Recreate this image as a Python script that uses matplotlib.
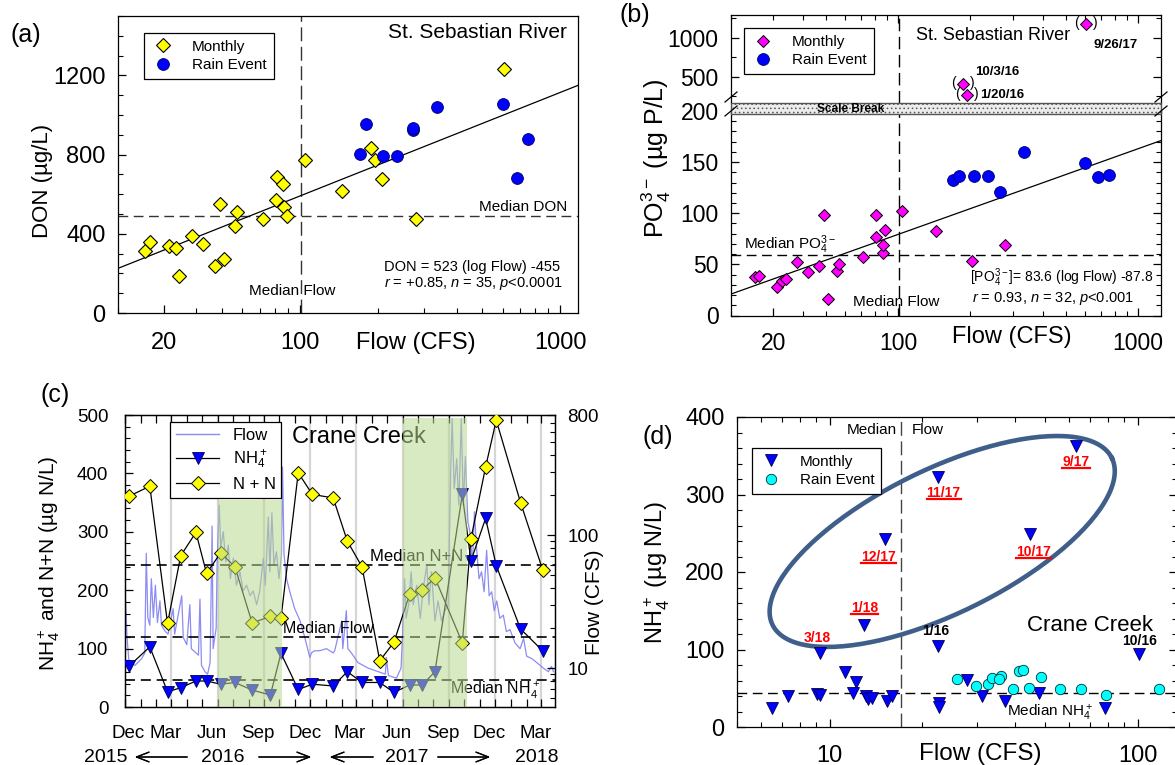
import matplotlib.pyplot as plt
import matplotlib.dates as mdates
import numpy as np
import pandas as pd
from matplotlib.lines import Line2D
from matplotlib.patches import Rectangle
from matplotlib.ticker import (FixedFormatter, FixedLocator, LogLocator,
                               MultipleLocator, NullFormatter)

# ---------- (a) DON vs flow, St. Sebastian River ----------
a_month_flow = [25.5, 26.5, 31.5, 33.5, 34.4, 38.4, 42.5, 47.0, 51.2, 49.3, 57.2, 56.1, 72.3,
                81.6, 85.9, 80.8, 87.1, 88.9, 105, 145, 187, 195, 207, 279, 610]
a_month_don = [312, 357, 337, 329, 185, 388, 349, 236, 273, 553, 509, 438, 475,
               686, 654, 570, 536, 489, 774, 615, 833, 775, 678, 475, 1230]
a_rain_flow = [170, 179, 208, 237, 271, 273, 337, 605, 755, 682]
a_rain_don = [801, 954, 792, 792, 922, 935, 1040, 1057, 880, 683]
a_median_don = 492
a_median_flow = 101
a_fit = (523, -455)

# ---------- (b) PO4 vs flow, St. Sebastian River ----------
b_month_flow = [25.1, 26.2, 31.0, 32.7, 34.0, 37.8, 41.9, 46.6, 48.7, 50.8, 55.6, 56.5, 71.3,
                80.3, 80.3, 85.9, 85.9, 88.1, 104, 143, 203, 278]
b_month_po4 = [37.9, 38.6, 28.2, 33.7, 35.4, 52.6, 42.5, 48.7, 98.0, 16.1, 43.5, 50.4, 57.5,
               98.3, 77.1, 60.8, 68.9, 83.6, 102.2, 82.9, 53.6, 69.3]
b_rain_flow = [169, 179, 206, 236, 267, 334, 604, 683, 756]
b_rain_po4 = [132.5, 136.4, 136.4, 136.4, 121.1, 160.2, 148.8, 135.5, 137.4]
b_high_flow = [608, 186, 194]
b_high_po4 = [1176, 403, 265]
b_high_dates = ["9/26/17", "10/3/16", "1/20/16"]
b_median_po4 = 59.2
b_median_flow = 101
b_fit = (83.6, -87.8)

# ---------- (c) Crane Creek time series ----------
c_dates = ["2015-12-09", "2016-01-19", "2016-02-23", "2016-03-20", "2016-04-19", "2016-05-10",
           "2016-06-07", "2016-07-05", "2016-08-08", "2016-09-13", "2016-10-04", "2016-11-07",
           "2016-12-05", "2017-01-15", "2017-02-12", "2017-03-13", "2017-04-17", "2017-05-15",
           "2017-06-15", "2017-07-10", "2017-08-04", "2017-09-27", "2017-10-14", "2017-11-12",
           "2017-12-03", "2018-01-20", "2018-03-05"]
c_nh4 = [70, 103, 26, 33, 44.5, 44.5, 39, 42, 29, 20.5, 92, 30, 39, 36, 60.5, 42, 42, 25,
         37.7, 37.7, 60.5, 364, 250, 323, 242, 133.6, 96]
c_nn = [361, 378, 143, 259, 299, 229, 264, 240, 144, 155, 152, 401, 364, 358, 284, 240, 79, 111,
        193, 201, 221, 110, 288, 411, 491, 350, 234]

flow_start = "2015-12-01"
flow_day = [0, 4, 8, 20, 33, 39, 42, 45, 49, 52, 56, 60, 64, 69, 72, 79, 85, 95, 98, 112,
            115, 122, 128, 131, 145, 148, 151, 158, 163, 168, 172, 174, 180, 182, 186, 189, 194, 199, 204, 208,
            214, 220, 227, 233, 240, 247, 253, 260, 266, 273, 277, 283, 286, 290, 294, 299, 304, 309, 311, 314,
            319, 325, 335, 345, 355, 365, 368, 374, 384, 398, 411, 414, 428, 430, 437, 440, 447, 460, 480, 500,
            514, 516, 520, 536, 545, 548, 552, 555, 560, 565, 569, 576, 583, 589, 596, 600, 605, 612, 618, 625,
            632, 638, 643, 646, 650, 655, 659, 664, 668, 672, 677, 681, 686, 690, 694, 699, 704, 709, 714, 719,
            724, 729, 734, 740, 747, 753, 760, 770, 780, 787, 793, 803, 813, 826, 836, 842, 846]
flow_cfs = [40, 17, 11, 10.5, 11.8, 13, 73, 24, 21, 47, 24, 42, 22, 32, 21, 19, 18, 28, 18, 35,
            17, 15, 30, 14, 12.5, 33, 10.5, 9.4, 9, 11, 117, 14, 20, 63, 168, 80, 106, 63, 84, 47,
            67, 42, 53, 38, 42, 35, 38, 30, 38, 67, 42, 137, 53, 147, 60, 75, 47, 71, 325, 71,
            47, 38, 28, 23, 17, 12, 13, 13.5, 13.5, 14, 13, 13.5, 22.6, 14, 27, 14, 13, 11, 10, 9.4,
            9, 12, 8.8, 8.4, 10, 17.7, 47, 23.7, 30, 53, 30, 42, 23.7, 40, 60, 30, 53, 22.6, 32, 22.6,
            27, 30, 300, 750, 224, 375, 168, 750, 168, 390, 126, 106, 60, 150, 81, 47, 53, 37.5, 77, 35,
            37.5, 27, 32, 23.7, 25, 18.8, 19.5, 15.5, 14, 16.7, 12.3, 11.8, 11, 10, 9.4, 10.3, 9.4]

wet_start = ["2016-06-01", "2017-06-01"]
wet_end = ["2016-10-06", "2017-10-07"]
wet_top = [355, 495]
c_median_nn = 243
c_median_nh4 = 47
crane_median_flow = 17.0

quarter_dates = ["2016-03-01", "2016-06-01", "2016-09-01", "2016-12-01", "2017-03-01",
                 "2017-06-01", "2017-09-01", "2017-12-01", "2018-03-01"]
month_label_dates = ["2015-12-07", "2016-02-19", "2016-05-20", "2016-08-19", "2016-11-20",
                     "2017-02-17", "2017-05-21", "2017-08-20", "2017-11-19", "2018-02-18"]
month_labels = ["Dec", "Mar", "Jun", "Sep", "Dec", "Mar", "Jun", "Sep", "Dec", "Mar"]

# ---------- (d) Crane Creek NH4 vs flow ----------
d_month_flow = [63, 22.4, 44.8, 15.1, 12.9, 9.3, 22.4, 101, 6.5, 7.3, 9.12, 9.3, 11.2, 12.2,
                11.9, 13.1, 13.3, 13.7, 15.3, 15.9, 22.6, 22.7, 27.8, 31.3, 37.0, 47.7, 78.5]
d_month_nh4 = [363, 323, 249, 242, 132, 95, 104, 94, 24, 40.4, 42, 41, 71.4, 58.5,
               43.4, 40, 36, 38, 34, 40, 31.4, 26, 60.6, 40, 33.5, 44, 24]
d_month_tags = ["9/17", "11/17", "10/17", "12/17", "1/18", "3/18", "1/16", "10/16"]
d_rain_flow = [25.8, 29.8, 32.7, 33.7, 35.9, 35.3, 39.4, 41.1, 42.5, 44.4, 48.4, 56.1, 65.2, 79, 117]
d_rain_nh4 = [61.5, 52.9, 55, 63.7, 65.8, 62.5, 48.6, 72.3, 73.5, 50.9, 63.9, 48.6, 48.6, 41.3, 49]
d_median_nh4 = 43.4

W, H = 1175, 765
YELLOW = "#ffff00"
BLUE = "#0000ff"
MAGENTA = "#ff00ff"
CYAN = "#00ffff"
FLOW_BLUE = "#8c8cf2"
DASH = (7, 4)


def rc_style():
    plt.rcParams.update(
        {
            "font.family": ["Liberation Sans", "DejaVu Sans"],
            "mathtext.fontset": "custom",
            "mathtext.rm": "Liberation Sans",
            "mathtext.it": "Liberation Sans:italic",
            "mathtext.bf": "Liberation Sans:bold",
            "axes.linewidth": 0.9,
            "hatch.color": "#c4c4c4",
            "hatch.linewidth": 0.6,
        }
    )


def frac_box(left, top, right, bottom):
    return [left / W, 1 - bottom / H, (right - left) / W, (bottom - top) / H]


def fig_xy(x, y):
    return x / W, 1 - y / H


def style_ticks(ax, size, xpad, ypad, top=False, right=False):
    ax.tick_params(which="both", direction="in", labelsize=size, top=top, right=right)
    ax.tick_params(which="major", length=6, width=0.9)
    ax.tick_params(which="minor", length=3.5, width=0.8)
    ax.tick_params(axis="x", pad=xpad)
    ax.tick_params(axis="y", pad=ypad)


def log_minor(axis):
    axis.set_minor_locator(LogLocator(subs=np.arange(2, 10), numticks=20))
    axis.set_minor_formatter(NullFormatter())


def boxed_legend(ax, handles, labels, anchor, size, **kw):
    leg = ax.legend(handles, labels, loc="upper left", bbox_to_anchor=anchor, frameon=True,
                    fancybox=False, edgecolor="black", framealpha=1, fontsize=size,
                    borderaxespad=0, numpoints=1, **kw)
    leg.get_frame().set_linewidth(0.9)
    return leg


def draw_don_panel(fig):
    ax = fig.add_axes(frac_box(118, 16, 578, 313))
    ax.set_xscale("log")
    ax.set_xlim(20, 1170)
    ax.set_ylim(0, 1500)

    xs = np.geomspace(20, 1170, 60)
    ax.plot(xs, a_fit[0] * np.log10(xs) + a_fit[1], color="black", lw=0.9, zorder=2)
    ax.axhline(a_median_don, color="#333333", lw=1, dashes=DASH, zorder=1)
    ax.axvline(a_median_flow, color="#333333", lw=1, dashes=(10, 4), zorder=1)

    mon, = ax.plot(a_month_flow, a_month_don, ls="none", marker="D", ms=7.5,
                   mfc=YELLOW, mec="black", mew=0.8, zorder=3)
    rain, = ax.plot(a_rain_flow, a_rain_don, ls="none", marker="o", ms=8.5,
                    mfc=BLUE, mec="#000060", mew=0.6, zorder=3)

    ax.xaxis.set_major_locator(FixedLocator([30, 100, 1000]))
    ax.xaxis.set_major_formatter(FixedFormatter(["20", "100", "1000"]))
    log_minor(ax.xaxis)
    ax.yaxis.set_major_locator(MultipleLocator(400))
    ax.yaxis.set_minor_locator(MultipleLocator(100))
    style_ticks(ax, 17, 14, 9)

    ax.text(0.976, 0.943, "St. Sebastian River", transform=ax.transAxes, ha="right",
            va="center", fontsize=15)
    ax.text(0.976, 0.357, "Median DON", transform=ax.transAxes, ha="right", va="center", fontsize=11)
    ax.text(0.285, 0.074, "Median Flow", transform=ax.transAxes, ha="left", va="center", fontsize=11)
    ax.text(0.578, 0.155, "DON = 523 (log Flow) -455", transform=ax.transAxes, ha="left",
            va="center", fontsize=10.5)
    ax.text(0.578, 0.101, "$r$ = +0.85, $n$ = 35, $p$<0.0001", transform=ax.transAxes,
            ha="left", va="center", fontsize=10.5)
    ax.text(0.647, -0.102, "Flow (CFS)", transform=ax.transAxes, ha="center", va="center", fontsize=17)
    ax.text(-0.165, 0.444, "DON (µg/L)", transform=ax.transAxes, rotation=90, ha="center",
            va="center", fontsize=16)
    fig.text(*fig_xy(26, 35), "(a)", ha="center", va="center", fontsize=18)

    boxed_legend(ax, [mon, rain], ["Monthly", "Rain Event"], (0.0565, 0.943), 11,
                 handlelength=1.6, handletextpad=1.1, borderpad=0.45, labelspacing=0.3)


def draw_po4_panel(fig):
    low = fig.add_axes(frac_box(731, 111, 1161, 315.5))
    up = fig.add_axes(frac_box(731, 15, 1161, 103.3))
    for ax in (low, up):
        ax.set_xscale("log")
        ax.set_xlim(20, 1250)
        log_minor(ax.xaxis)
        ax.axvline(b_median_flow, color="black", lw=1, dashes=(9, 4), zorder=1)

    low.set_ylim(0, 200)
    low.spines["top"].set_visible(False)
    low.xaxis.set_major_locator(FixedLocator([30, 100, 1000]))
    low.xaxis.set_major_formatter(FixedFormatter(["20", "100", "1000"]))
    low.yaxis.set_major_locator(MultipleLocator(50))
    low.yaxis.set_minor_locator(MultipleLocator(10))
    style_ticks(low, 16.5, 12, 9, right=True)

    up.set_ylim(160, 1290)
    up.spines["bottom"].set_visible(False)
    up.xaxis.set_major_locator(FixedLocator([100, 1000]))
    up.yaxis.set_major_locator(FixedLocator([500, 1000]))
    up.yaxis.set_minor_locator(FixedLocator([250, 750, 1250]))
    style_ticks(up, 16.5, 9, 9, top=True, right=True)
    up.tick_params(which="both", bottom=False, labelbottom=False)

    xs = np.geomspace(20, 1250, 60)
    low.plot(xs, b_fit[0] * np.log10(xs) + b_fit[1], color="black", lw=0.9, zorder=2)
    low.axhline(b_median_po4, color="black", lw=1, dashes=DASH, zorder=1)

    mon, = low.plot(b_month_flow, b_month_po4, ls="none", marker="D", ms=6.5,
                    mfc=MAGENTA, mec="black", mew=0.7, zorder=3)
    rain, = low.plot(b_rain_flow, b_rain_po4, ls="none", marker="o", ms=8.5,
                     mfc=BLUE, mec="#000060", mew=0.6, zorder=3)

    # excluded high values, shown in parentheses above the break
    up.plot(b_high_flow, b_high_po4, ls="none", marker="D", ms=5.8, mfc=MAGENTA,
            mec="black", mew=0.7, zorder=3)
    tag_offsets = [(21.6, -15.1, "center"), (24.5, 8.6, "center"), (9.6, 0, "left")]
    for x, y, tag, (dx, dy, ha) in zip(b_high_flow, b_high_po4, b_high_dates, tag_offsets):
        up.annotate("(", (x, y), xytext=(-6.8, 1), textcoords="offset points", ha="center",
                    va="center", fontsize=10)
        up.annotate(")", (x, y), xytext=(6.8, 1), textcoords="offset points", ha="center",
                    va="center", fontsize=10)
        up.annotate(tag, (x, y), xytext=(dx, dy), textcoords="offset points", ha=ha,
                    va="center", fontsize=9.5, fontweight="bold")

    # scale break band between the two y ranges
    fig.add_artist(Rectangle(fig_xy(731, 114.3), 430 / W, 11 / H, transform=fig.transFigure,
                             facecolor="#ececec", edgecolor="#555555", lw=1, hatch="....", zorder=5))
    fig.text(*fig_xy(851, 109), "Scale Break", ha="center", va="center", fontsize=8.5,
             fontweight="bold", zorder=6)
    for x in (731, 1161):
        for yc in (97, 111):
            (x0, y0), (x1, y1) = fig_xy(x - 6, yc + 5), fig_xy(x + 6, yc - 5)
            fig.add_artist(Line2D([x0, x1], [y0, y1], transform=fig.transFigure,
                                  color="black", lw=0.9, zorder=6))

    up.text(0.430, 0.773, "St. Sebastian River", transform=up.transAxes, ha="left",
            va="center", fontsize=13)
    low.text(0.03, 0.345, "Median PO$_4^{3-}$", transform=low.transAxes, ha="left",
             va="center", fontsize=11)
    low.text(0.283, 0.067, "Median Flow", transform=low.transAxes, ha="left", va="center", fontsize=11)
    low.text(0.556, 0.183, "[PO$_4^{3-}$]= 83.6 (log Flow) -87.8", transform=low.transAxes,
             ha="left", va="center", fontsize=10)
    low.text(0.56, 0.084, "$r$ = 0.93, $n$ = 32, $p$<0.001", transform=low.transAxes,
             ha="left", va="center", fontsize=10.5)
    low.text(0.653, -0.105, "Flow (CFS)", transform=low.transAxes, ha="center", va="center",
             fontsize=17)
    fig.text(*fig_xy(656, 158), "PO$_4^{3-}$ (µg P/L)", rotation=90, ha="center", va="center",
             fontsize=18)
    fig.text(*fig_xy(635, 15), "(b)", ha="center", va="center", fontsize=18)

    boxed_legend(up, [mon, rain], ["Monthly", "Rain Event"], (0.030, 0.853), 11,
                 handlelength=1.6, handletextpad=1.1, borderpad=0.45, labelspacing=0.3)


def draw_crane_series(fig):
    ax = fig.add_axes(frac_box(125, 415, 555, 707))
    axq = ax.twinx()
    ax.set_zorder(axq.get_zorder() + 1)
    ax.patch.set_visible(False)

    start = pd.Timestamp(flow_start)
    flow_dates = start + pd.to_timedelta(flow_day, unit="D")
    axq.set_yscale("log")
    axq.set_ylim(5.1, 800)
    for d in pd.to_datetime(quarter_dates):
        axq.axvline(d, color="#d6d6d6", lw=1.6, zorder=0)
    axq.plot(flow_dates, flow_cfs, color=FLOW_BLUE, lw=0.9, zorder=1)
    axq.axhline(crane_median_flow, color="black", lw=1.2, dashes=(6, 3.5), zorder=2)
    axq.yaxis.set_major_locator(FixedLocator([10, 100, 800]))
    axq.yaxis.set_major_formatter(FixedFormatter(["10", "100", "800"]))
    log_minor(axq.yaxis)
    axq.tick_params(which="both", direction="in", labelsize=13.5, pad=9)
    axq.tick_params(which="major", length=6, width=0.9)
    axq.tick_params(which="minor", length=3.5, width=0.8)

    dates = pd.to_datetime(c_dates)
    ax.set_xlim(start, pd.Timestamp("2018-03-29"))
    ax.set_ylim(0, 500)
    ax.axhline(c_median_nn, color="black", lw=1.2, dashes=(6, 3.5), zorder=1)
    ax.axhline(c_median_nh4, color="black", lw=1.2, dashes=(6, 3.5), zorder=1)
    nh4_line, = ax.plot(dates, c_nh4, color="black", lw=0.9, marker="v", ms=8.5,
                        mfc=BLUE, mec="#000050", mew=0.6, zorder=3)
    nn_line, = ax.plot(dates, c_nn, color="black", lw=0.9, marker="D", ms=7,
                       mfc=YELLOW, mec="black", mew=0.7, zorder=3)
    for s, e, top in zip(pd.to_datetime(wet_start), pd.to_datetime(wet_end), wet_top):
        ax.fill_between([s, e], 0, top, color="#b9d98f", alpha=0.55, lw=0, zorder=6)

    ax.xaxis.set_major_locator(mdates.MonthLocator())
    ax.xaxis.set_major_formatter(NullFormatter())
    ax.xaxis.set_minor_locator(FixedLocator(mdates.date2num(pd.to_datetime(month_label_dates))))
    ax.xaxis.set_minor_formatter(FixedFormatter(month_labels))
    ax.yaxis.set_major_locator(MultipleLocator(100))
    ax.yaxis.set_minor_locator(MultipleLocator(20))
    style_ticks(ax, 13.5, 10, 12, top=True)
    ax.tick_params(axis="x", which="minor", length=0, pad=13, labelsize=13.5)

    ax.text(0.545, 0.926, "Crane Creek", transform=ax.transAxes, ha="center", va="center",
            fontsize=17, zorder=4)
    ax.text(0.570, 0.515, "Median N+N", transform=ax.transAxes, ha="left", va="center",
            fontsize=12, zorder=4)
    ax.text(0.368, 0.27, "Median Flow", transform=ax.transAxes, ha="left", va="center",
            fontsize=11.5, zorder=4)
    ax.text(0.756, 0.055, "Median NH$_4^+$", transform=ax.transAxes, ha="left", va="center",
            fontsize=11.5, zorder=4)

    flow_handle = Line2D([], [], color=FLOW_BLUE, lw=1)
    leg = boxed_legend(ax, [flow_handle, nh4_line, nn_line], ["Flow", "NH$_4^+$", "N + N"],
                       (0.105, 0.976), 12, handlelength=2.6, handletextpad=0.8,
                       borderpad=0.35, labelspacing=0.35)
    leg.set_zorder(8)

    fig.text(*fig_xy(49, 563), "NH$_4^+$ and N+N (µg N/L)", rotation=90, ha="center",
             va="center", fontsize=15)
    fig.text(*fig_xy(594, 602), "Flow (CFS)", rotation=90, ha="center", va="center", fontsize=15)
    fig.text(*fig_xy(55, 395), "(c)", ha="center", va="center", fontsize=18)

    # year row under the month labels
    row = 757
    for label, x in [("2015", 106), ("2016", 223), ("2017", 407), ("2018", 537)]:
        fig.text(*fig_xy(x, row), label, ha="center", va="center", fontsize=14)
    for tail, head in [(190, 132), (256, 314), (376, 327), (435, 493)]:
        fig.add_artist(plt.annotate("", xy=fig_xy(head, row), xytext=fig_xy(tail, row),
                                    xycoords="figure fraction", textcoords="figure fraction",
                                    arrowprops=dict(arrowstyle="->,head_length=0.9,head_width=0.35",
                                                    lw=0.9, color="black")))


def draw_crane_scatter(fig):
    ax = fig.add_axes(frac_box(737, 417, 1177, 727))
    ax.set_xscale("log")
    ax.set_xlim(5, 134)
    ax.set_ylim(0, 400)

    ax.axhline(d_median_nh4, color="black", lw=1, dashes=DASH, zorder=1)
    ax.axvline(crane_median_flow, color="#444444", lw=1, dashes=(10, 4), zorder=1)

    # highlight around the 2017-18 high-NH4 months
    t = np.linspace(0, 2 * np.pi, 200)
    u = 1.365 + 0.5506 * np.cos(t) - 0.1031 * np.sin(t)
    v = 239.4 + 107.7 * np.cos(t) + 83.2 * np.sin(t)
    ax.plot(10 ** u, v, color="#3f5f8a", lw=3.3, zorder=2)

    mon, = ax.plot(d_month_flow, d_month_nh4, ls="none", marker="v", ms=8.5, mfc=BLUE,
                   mec="#000050", mew=0.6, zorder=3)
    rain, = ax.plot(d_rain_flow, d_rain_nh4, ls="none", marker="o", ms=7.5, mfc=CYAN,
                    mec="#003030", mew=0.6, zorder=3)

    ax.xaxis.set_major_locator(FixedLocator([10, 100]))
    ax.xaxis.set_major_formatter(FixedFormatter(["10", "100"]))
    log_minor(ax.xaxis)
    ax.yaxis.set_major_locator(MultipleLocator(100))
    ax.yaxis.set_minor_locator(MultipleLocator(20))
    style_ticks(ax, 17, 13, 9, top=True, right=True)

    tag_style = [((0, -11.5), "red", True), ((4.3, -11.5), "red", True), ((2.2, -12.6), "red", True),
                 ((-4.6, -12.6), "red", True), ((0.7, 12.2), "red", True), ((-1.7, 11.2), "red", False),
                 ((-1.4, 11.2), "black", False), ((0, 9.4), "black", False)]
    underlined = []
    for i, (tag, (off, color, under)) in enumerate(zip(d_month_tags, tag_style)):
        txt = ax.annotate(tag, (d_month_flow[i], d_month_nh4[i]), xytext=off,
                          textcoords="offset points", ha="center", va="center", fontsize=10,
                          fontweight="bold", color=color, zorder=4)
        if under:
            underlined.append(txt)

    ax.text(0.802, 0.329, "Crane Creek", transform=ax.transAxes, ha="center", va="center", fontsize=16)
    ax.text(0.711, 0.046, "Median NH$_4^+$", transform=ax.transAxes, ha="center", va="center",
            fontsize=11)
    ax.text(0.3636, 0.958, "Median", transform=ax.transAxes, ha="right", va="center", fontsize=11)
    ax.text(0.397, 0.958, "Flow", transform=ax.transAxes, ha="left", va="center", fontsize=11)
    ax.text(0.552, -0.088, "Flow (CFS)", transform=ax.transAxes, ha="center", va="center",
            fontsize=17.5)
    fig.text(*fig_xy(657, 572), "NH$_4^+$ (µg N/L)", rotation=90, ha="center", va="center", fontsize=17)
    fig.text(*fig_xy(658, 437), "(d)", ha="center", va="center", fontsize=18)

    boxed_legend(ax, [mon, rain], ["Monthly", "Rain Event"], (0.033, 0.901), 11,
                 handlelength=1.6, handletextpad=1.1, borderpad=0.45, labelspacing=0.3)
    return underlined


def underline(fig, texts, color="red"):
    fig.canvas.draw()
    renderer = fig.canvas.get_renderer()
    inv = fig.transFigure.inverted()
    for txt in texts:
        bb = txt.get_window_extent(renderer)
        (x0, y0), (x1, _) = inv.transform([(bb.x0, bb.y0 + 0.5), (bb.x1, bb.y0 + 0.5)])
        fig.add_artist(Line2D([x0, x1], [y0, y0], transform=fig.transFigure, color=color, lw=1.6))


rc_style()
fig = plt.figure(figsize=(W / 100, H / 100), dpi=100)
draw_don_panel(fig)
draw_po4_panel(fig)
draw_crane_series(fig)
tags = draw_crane_scatter(fig)
underline(fig, tags)
fig.savefig("out.png", dpi=100)
plt.close(fig)
